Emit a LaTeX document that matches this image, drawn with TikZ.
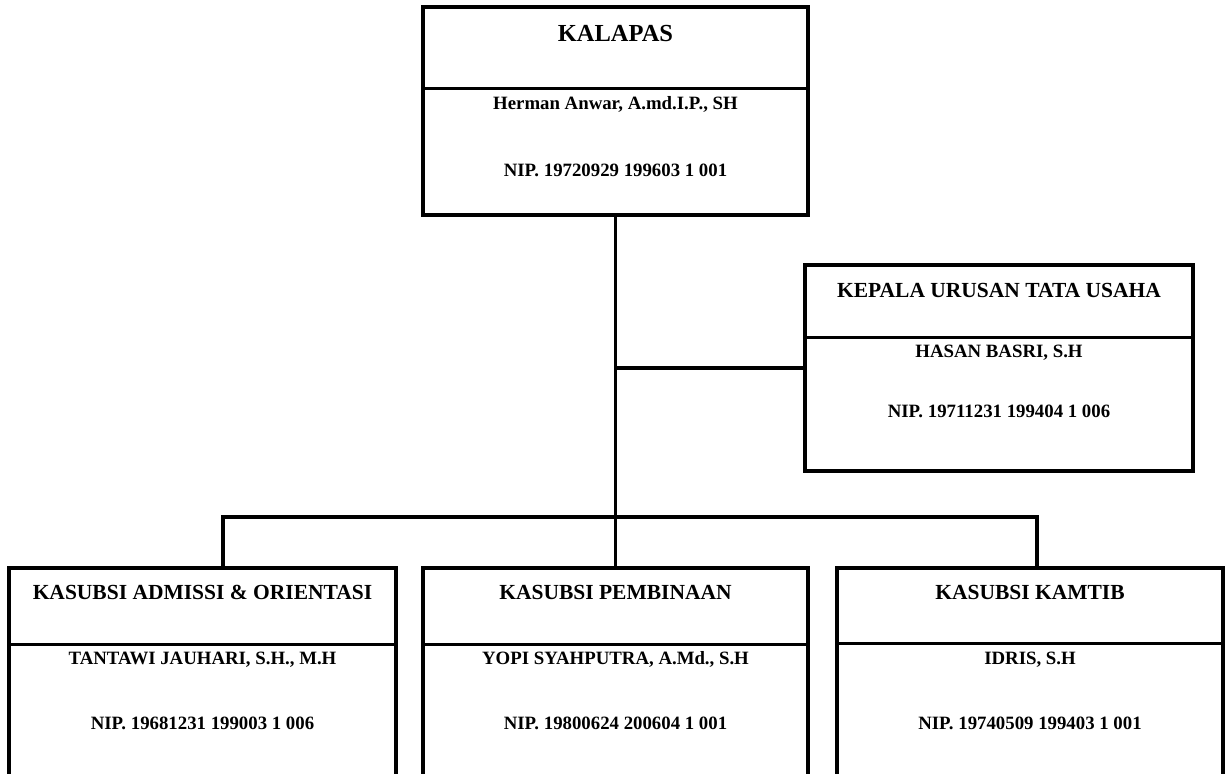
\documentclass[tikz,border=0pt]{standalone}
\usepackage{fontspec}
\setmainfont{Liberation Serif}
\usetikzlibrary{calc, fit}

\begin{document}
\begin{tikzpicture}[
  x=0.03cm, y=-0.03cm,
  box/.style={draw, line width=2.8pt, inner sep=0pt},
  divider/.style={line width=2.1pt},
  link/.style={line width=2.7pt},
  bigtitle/.style={anchor=base, inner sep=0pt, font=\fontsize{20.9}{24}\selectfont\bfseries},
  headtext/.style={anchor=base, inner sep=0pt, font=\fontsize{18.35}{22}\selectfont\bfseries},
  nametext/.style={anchor=base, inner sep=0pt, font=\fontsize{16.05}{19}\selectfont\bfseries},
]
  \clip (0,0) rectangle (1227,773);

  % kotak-kotak jabatan
  \node[box, fit={(423,7) (808,215)}] (kalapas) {};
  \node[box, fit={(805,265) (1193,471)}] (tatausaha) {};
  \node[box, fit={(9,568) (396,800)}] (admisi) {};
  \node[box, fit={(423,568) (808,800)}] (pembinaan) {};
  \node[box, fit={(837,568) (1223,800)}] (kamtib) {};

  % garis pemisah jabatan / nama
  \draw[divider] ($(kalapas.north west)+(0,83)$) -- ($(kalapas.north east)+(0,83)$);
  \draw[divider] ($(tatausaha.north west)+(0,74)$) -- ($(tatausaha.north east)+(0,74)$);
  \draw[divider] ($(admisi.north west)+(0,78)$) -- ($(admisi.north east)+(0,78)$);
  \draw[divider] ($(pembinaan.north west)+(0,78)$) -- ($(pembinaan.north east)+(0,78)$);
  \draw[divider] ($(kamtib.north west)+(0,77)$) -- ($(kamtib.north east)+(0,77)$);

  % garis komando
  \coordinate (busleft) at (223,517);
  \coordinate (busright) at (1037,517);
  \draw[link] (kalapas.south) -- (pembinaan.north);
  \draw[link] (kalapas.south |- tatausaha.west) -- (tatausaha.west);
  \draw[link] (admisi.north -| busleft) -- (busleft) -- (busright) -- (kamtib.north -| busright);

  % KALAPAS
  \node[bigtitle] (kalapashead) at (615.5,41) {KALAPAS};
  \node[nametext] (kalapasname) at (615.5,109) {Herman Anwar, A.md.I.P., SH};
  \node[nametext] (kalapasnip) at (615.5,176) {NIP. 19720929 199603 1 001};

  % Tata Usaha
  \node[headtext] (tuhead) at (999,297) {KEPALA URUSAN TATA USAHA};
  \node[nametext] (tuname) at (999,357) {HASAN BASRI, S.H};
  \node[nametext] (tunip) at (999,417) {NIP. 19711231 199404 1 006};

  % Kasubsi
  \node[headtext] (admisihead) at (202.5,599) {KASUBSI ADMISSI \& ORIENTASI};
  \node[nametext] (admisiname) at (202.5,664) {TANTAWI JAUHARI, S.H., M.H};
  \node[nametext] (admisinip) at (202.5,729) {NIP. 19681231 199003 1 006};

  \node[headtext] (pembinaanhead) at (615.5,599) {KASUBSI PEMBINAAN};
  \node[nametext] (pembinaanname) at (615.5,664) {YOPI SYAHPUTRA, A.Md., S.H};
  \node[nametext] (pembinaannip) at (615.5,729) {NIP. 19800624 200604 1 001};

  \node[headtext] (kamtibhead) at (1030,599) {KASUBSI KAMTIB};
  \node[nametext] (kamtibname) at (1030,664) {IDRIS, S.H};
  \node[nametext] (kamtibnip) at (1030,729) {NIP. 19740509 199403 1 001};
\end{tikzpicture}
\end{document}
